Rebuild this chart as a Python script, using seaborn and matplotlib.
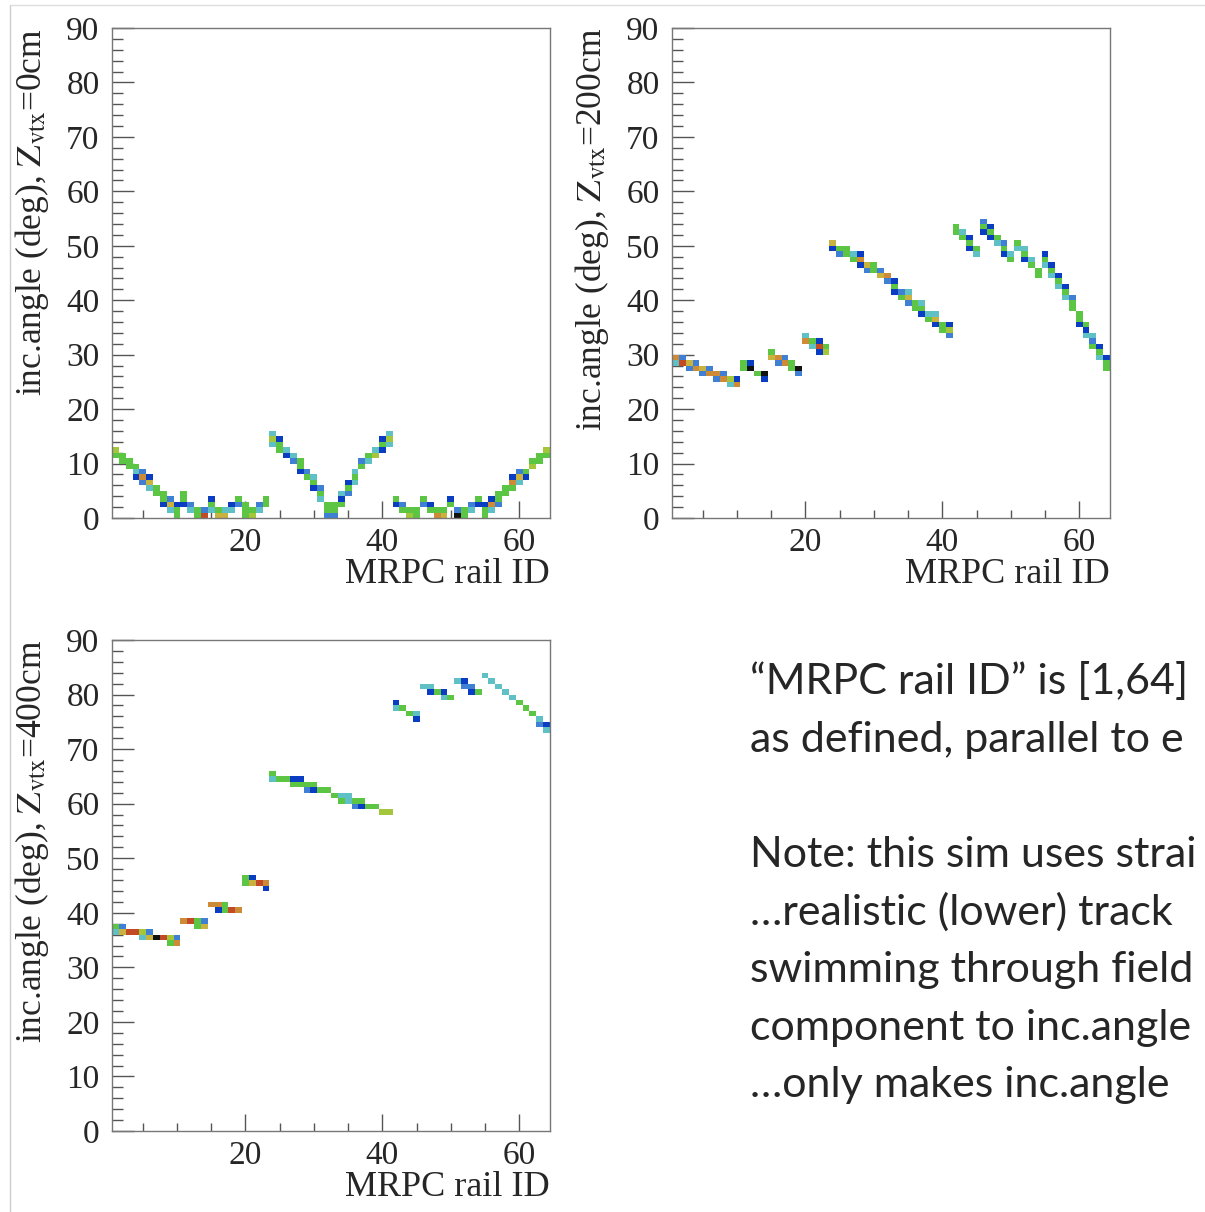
import numpy as np
import matplotlib
matplotlib.use("Agg")
import matplotlib.pyplot as plt
from matplotlib.colors import ListedColormap
import seaborn as sns

# --- data (rail ID, angle bin, colour level) ---

# Z_vtx = 0 cm
z0_rail = [
    1, 1, 2, 2, 3, 3, 4, 4, 4, 5, 5, 5, 6, 6, 6, 7, 7, 8, 8, 8, 9, 9, 9, 10, 10, 10,
    11, 11, 11, 12, 12, 13, 13, 14, 14, 15, 15, 15, 16, 16, 17, 17, 18, 18, 19, 19,
    20, 20, 20, 21, 21, 22, 22, 23, 23,
    24, 24, 24, 25, 25, 25, 26, 26, 27, 27, 28, 28, 28, 29, 29, 30, 30, 30,
    31, 31, 31, 32, 32, 32, 33, 33, 33, 34, 34, 34, 35, 35, 35, 36, 36, 36,
    37, 37, 38, 38, 39, 39, 40, 40, 40, 41, 41, 41,
    42, 42, 43, 43, 44, 44, 45, 45, 46, 46, 47, 47, 48, 48, 49, 49, 50, 50,
    51, 51, 52, 52, 53, 53, 54, 54, 55, 55, 55, 56, 56, 56, 57, 57, 57, 58, 58,
    59, 59, 59, 60, 60, 60, 61, 61, 62, 62, 63, 63, 64, 64,
]
z0_angle = [
    12, 11, 11, 10, 10, 9, 9, 8, 7, 8, 7, 6, 7, 6, 5, 5, 4, 4, 3, 2, 3, 2, 1, 2, 1, 0,
    4, 3, 2, 2, 1, 1, 0, 1, 0, 3, 2, 1, 1, 0, 1, 0, 2, 1, 3, 2,
    2, 1, 0, 1, 0, 2, 1, 3, 2,
    15, 14, 13, 14, 13, 12, 12, 11, 11, 10, 10, 9, 8, 8, 7, 7, 6, 5,
    5, 4, 3, 2, 1, 0, 2, 1, 0, 4, 3, 2, 6, 5, 4, 8, 7, 6,
    10, 9, 11, 10, 12, 11, 14, 13, 12, 15, 14, 13,
    3, 2, 2, 1, 1, 0, 1, 0, 3, 2, 2, 1, 1, 0, 1, 0, 3, 2,
    1, 0, 1, 0, 2, 1, 3, 2, 2, 1, 0, 3, 2, 1, 4, 3, 2, 5, 4,
    7, 6, 5, 8, 7, 6, 8, 7, 10, 9, 11, 10, 12, 11,
]
z0_level = [
    5, 4, 4, 4, 4, 4, 4, 3, 1, 2, 7, 2, 1, 6, 3, 4, 4, 4, 4, 1, 2, 6, 3, 1, 4, 4,
    4, 4, 1, 2, 3, 4, 4, 2, 8, 1, 4, 3, 4, 6, 3, 6, 1, 3, 4, 2,
    4, 4, 4, 4, 5, 2, 3, 4, 4,
    3, 5, 3, 1, 4, 4, 3, 1, 3, 2, 4, 4, 1, 2, 4, 3, 4, 1,
    2, 4, 3, 4, 4, 2, 4, 4, 2, 3, 1, 4, 1, 4, 2, 3, 4, 3,
    2, 4, 4, 3, 3, 5, 1, 4, 1, 3, 5, 3,
    4, 1, 2, 4, 4, 5, 4, 4, 4, 2, 1, 4, 4, 7, 4, 6, 1, 4,
    2, 9, 4, 4, 2, 3, 4, 1, 1, 4, 4, 1, 7, 3, 4, 4, 2, 4, 4,
    1, 7, 4, 2, 6, 3, 4, 1, 4, 5, 4, 4, 5, 4,
]

# Z_vtx = 200 cm
z200_rail = [
    1, 1, 2, 2, 3, 3, 4, 4, 5, 5, 6, 6, 7, 7, 8, 8, 9, 9, 10, 10,
    11, 11, 12, 12, 13, 14, 14,
    15, 15, 16, 16, 17, 17, 18, 18, 19, 19,
    20, 20, 21, 21, 22, 22, 22, 23, 23,
    24, 24, 25, 25, 26, 26, 27, 27, 28, 28, 28, 29, 29, 30, 30, 31, 31, 32, 32,
    33, 33, 33, 34, 34, 35, 35, 35, 36, 36, 37, 37, 37, 38, 38, 39, 39, 39,
    40, 40, 41, 41, 41,
    42, 42, 43, 43, 44, 44, 44, 45, 45,
    46, 46, 46, 47, 47, 47, 48, 48, 49, 49, 49, 50, 50, 51, 51, 52, 52, 52,
    53, 53, 54, 54, 55, 55, 55, 56, 56, 56, 57, 57, 57, 58, 58, 58,
    59, 59, 59, 60, 60, 60, 61, 61, 61, 62, 62, 62, 63, 63, 63, 64, 64, 64,
]
z200_angle = [
    29, 28, 29, 28, 28, 27, 28, 27, 27, 26, 27, 26, 26, 25, 26, 25, 25, 24, 25, 24,
    28, 27, 28, 27, 26, 26, 25,
    30, 29, 29, 28, 29, 28, 28, 27, 27, 26,
    33, 32, 32, 31, 32, 31, 30, 31, 30,
    50, 49, 49, 48, 49, 48, 48, 47, 48, 47, 46, 46, 45, 46, 45, 45, 44, 44, 43,
    43, 42, 41, 41, 40, 41, 40, 39, 39, 38, 39, 38, 37, 37, 36, 37, 36, 35,
    35, 34, 35, 34, 33,
    53, 52, 52, 51, 51, 50, 49, 49, 48,
    54, 53, 52, 53, 52, 51, 51, 50, 50, 49, 48, 48, 47, 50, 49, 49, 48, 47,
    47, 46, 45, 44, 48, 47, 46, 46, 45, 44, 44, 43, 42, 42, 41, 40,
    40, 39, 38, 37, 36, 35, 35, 34, 33, 33, 32, 31, 31, 30, 29, 29, 28, 27,
]
z200_level = [
    7, 3, 2, 8, 6, 2, 2, 7, 6, 2, 2, 7, 7, 2, 2, 7, 5, 3, 1, 7,
    4, 4, 1, 9, 4, 9, 1,
    4, 6, 7, 2, 2, 7, 4, 4, 9, 2,
    3, 7, 4, 3, 1, 8, 1, 4, 5,
    6, 1, 4, 2, 4, 4, 3, 4, 1, 7, 1, 6, 2, 4, 4, 2, 6, 7, 2,
    1, 4, 1, 2, 4, 3, 6, 2, 4, 4, 3, 4, 1, 3, 4, 3, 6, 1,
    4, 4, 1, 5, 2,
    4, 4, 3, 4, 1, 4, 1, 4, 3,
    2, 4, 1, 1, 4, 1, 4, 3, 2, 4, 1, 3, 4, 4, 3, 3, 4, 1,
    3, 4, 4, 4, 1, 4, 3, 1, 4, 3, 1, 4, 3, 1, 4, 3,
    2, 4, 4, 4, 4, 1, 4, 1, 3, 3, 2, 4, 1, 4, 3, 1, 4, 4,
]

# Z_vtx = 400 cm
z400_rail = [
    1, 1, 2, 2, 3, 4, 5, 5, 6, 6, 7, 8, 9, 9, 10, 10,
    11, 12, 13, 13, 14, 14,
    15, 16, 16, 17, 17, 18, 19,
    20, 20, 21, 21, 22, 23, 23,
    24, 24, 25, 26, 27, 27, 28, 28, 29, 29, 30, 30, 31, 32, 33,
    34, 34, 35, 35, 36, 36, 37, 37, 38, 39, 40, 41,
    42, 42, 43, 44, 45, 45,
    46, 47, 47, 48, 49, 49, 50, 51, 52, 52, 53, 53, 54,
    55, 56, 57, 58, 59, 60, 61, 62, 63, 63, 64, 64,
]
z400_angle = [
    37, 36, 37, 36, 36, 36, 36, 35, 36, 35, 35, 35, 35, 34, 35, 34,
    38, 38, 38, 37, 38, 37,
    41, 41, 40, 41, 40, 40, 40,
    46, 45, 46, 45, 45, 45, 44,
    65, 64, 64, 64, 64, 63, 64, 63, 63, 62, 63, 62, 62, 62, 61,
    61, 60, 61, 60, 60, 59, 60, 59, 59, 59, 58, 58,
    78, 77, 77, 76, 76, 75,
    81, 81, 80, 80, 80, 79, 79, 82, 82, 81, 81, 80, 80,
    83, 82, 81, 80, 79, 78, 77, 76, 75, 74, 74, 73,
]
z400_level = [
    4, 3, 2, 6, 8, 8, 5, 3, 2, 6, 9, 8, 5, 4, 2, 7,
    7, 8, 4, 4, 2, 6,
    7, 7, 1, 4, 4, 8, 7,
    4, 4, 1, 6, 8, 7, 1,
    4, 3, 4, 4, 1, 4, 1, 4, 4, 2, 4, 1, 4, 4, 4,
    3, 4, 3, 3, 4, 2, 4, 1, 4, 4, 5, 5,
    1, 3, 4, 4, 3, 1,
    3, 3, 1, 4, 1, 3, 4, 3, 1, 2, 2, 1, 4,
    3, 3, 3, 3, 3, 4, 4, 4, 3, 2, 1, 3,
]

z_labels = ["0cm", "200cm", "400cm"]

# note text on the slide (right edge of the slide cuts it off)
note_lines = [
    "\u201cMRPC rail ID\u201d is [1,64]",
    "as defined, parallel to e",
    "",
    "Note: this sim uses strai",
    "\u2026realistic (lower) track",
    "swimming through field",
    "component to inc.angle",
    "\u2026only makes inc.angle",
]

# ROOT-like rainbow palette, low -> high
palette = ["#0b3dc3", "#3f7fd4", "#5fc0c6", "#5dc544", "#a3c63a",
           "#c9b23e", "#cd8a37", "#c24b25", "#111111"]
cmap = ListedColormap(palette)

sns.set_style("white")
plt.rcParams["font.family"] = ["Liberation Serif", "DejaVu Serif"]
plt.rcParams["mathtext.fontset"] = "stix"

fig = plt.figure(figsize=(12.05, 12.12), dpi=100)
W, H = 1205.0, 1212.0


def add_axes(left, top, right, bottom):
    return fig.add_axes([left / W, 1 - bottom / H, (right - left) / W, (bottom - top) / H])


axes = [add_axes(112, 28, 550, 518), add_axes(672, 28, 1110, 518), add_axes(112, 640, 550, 1131)]
data = [(z0_rail, z0_angle, z0_level), (z200_rail, z200_angle, z200_level),
        (z400_rail, z400_angle, z400_level)]

x_edges = np.arange(0.5, 65.5, 1)
y_edges = np.arange(0, 91, 1)

for ax, (rails, angles, levels), zl in zip(axes, data, z_labels):
    sns.histplot(x=rails, y=angles, weights=levels, bins=(x_edges, y_edges),
                 cmap=cmap, vmin=0.5, vmax=9.5, cbar=False, ax=ax)
    ax.set_xlim(0.5, 64.5)
    ax.set_ylim(0, 90)
    ax.set_xticks([20, 40, 60])
    ax.set_xticks(np.arange(5, 65, 5), minor=True)
    ax.set_yticks(np.arange(0, 91, 10))
    ax.set_yticks(np.arange(0, 91, 2), minor=True)
    ax.tick_params(which="both", bottom=True, left=True, top=False, right=False,
                   direction="in", width=1, color="#555555")
    ax.tick_params(axis="y", which="major", length=16, labelsize=24, pad=9)
    ax.tick_params(axis="y", which="minor", length=8)
    ax.tick_params(axis="x", which="major", length=12, labelsize=24, pad=7)
    ax.tick_params(axis="x", which="minor", length=6)
    for s in ax.spines.values():
        s.set_color("#777777")
        s.set_linewidth(1)
    ax.set_xlabel("MRPC rail ID", loc="right", fontsize=26, labelpad=0)
    ax.set_ylabel(r"inc.angle (deg), $\mathrm{Z}_{\mathrm{vtx}}$=" + zl, loc="top",
                  fontsize=25.5, labelpad=11)
    ax.grid(False)

for i, line in enumerate(note_lines):
    if line:
        fig.text(750 / W, 1 - (682 + 57.6 * i) / H, line, fontsize=31,
                 family=["Lato", "DejaVu Sans"], va="center", ha="left")

# faint border of the pasted canvas
fig.add_artist(plt.Line2D([10 / W, 10 / W], [0, 1 - 5 / H], color="#cccccc", lw=1))
fig.add_artist(plt.Line2D([10 / W, 1], [1 - 5 / H, 1 - 5 / H], color="#dddddd", lw=1))

fig.savefig("out.png", dpi=100)
